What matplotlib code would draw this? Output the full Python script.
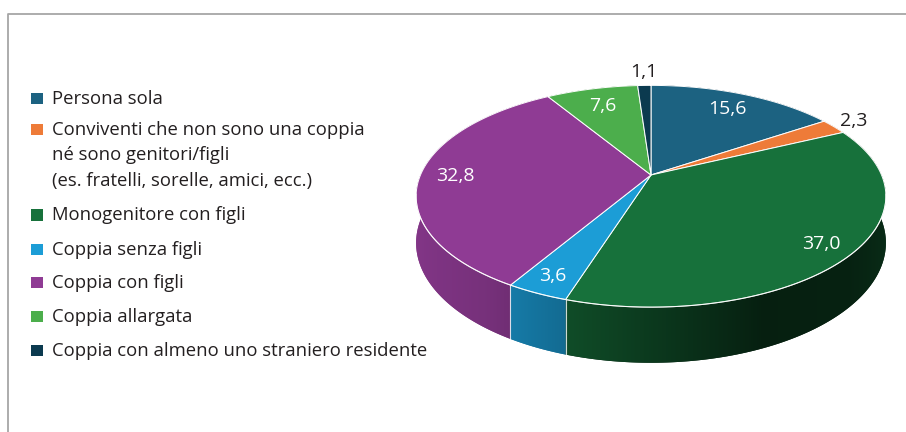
import numpy as np
import matplotlib.pyplot as plt
from matplotlib.patches import Polygon, Rectangle

# dati
categories = ["Persona sola",
              "Conviventi che non sono una coppia\nné sono genitori/figli\n(es. fratelli, sorelle, amici, ecc.)",
              "Monogenitore con figli",
              "Coppia senza figli",
              "Coppia con figli",
              "Coppia allargata",
              "Coppia con almeno uno straniero residente"]
values = [15.6, 2.3, 37.0, 3.6, 32.8, 7.6, 1.1]
value_labels = ["15,6", "2,3", "37,0", "3,6", "32,8", "7,6", "1,1"]
colors = ['#1c6281', '#ee7b38', '#17713b', '#1c9dd6', '#8f3b94', '#4cae4c', '#0b3a4f']
label_colors = ['white', '#231f20', 'white', 'white', 'white', 'white', '#231f20']
label_radius = [0.8, 1.12, 0.87, 0.88, 0.85, 0.78, 1.18]

# parametri della vista 3D (prospettiva)
tilt = np.radians(27.6)
dist = 4.62
scale = 1065
thick = 0.22
cx, cy = 651, 175


def proj(theta, r=1.0, z=0.0):
    # theta in gradi, in senso orario a partire dall'alto
    t = np.radians(theta)
    X = r * np.sin(t)
    Y = r * np.cos(t)
    v = Y * np.sin(tilt) + z * np.cos(tilt)
    w = dist + Y * np.cos(tilt)
    return cx + scale * X / w, cy - scale * v / w


def shade(col, f):
    c = np.array(plt.matplotlib.colors.to_rgb(col))
    return np.clip(c * f, 0, 1)


plt.rcParams['font.family'] = ['Open Sans', 'DejaVu Sans']

fig = plt.figure(figsize=(9.06, 4.32), dpi=100)
ax = fig.add_axes([0, 0, 1, 1])

# bordo
ax.plot([8, 8, 906], [432, 14, 14], color='#a6a6a6', lw=1.3, solid_capstyle='butt')

total = sum(values)
bounds = np.concatenate([[0], np.cumsum(values) / total * 360])

# pareti laterali con sfumatura orizzontale
shade_x = [-1, -0.6, -0.3, 0.4, 0.75, 1]
shade_f = [0.92, 0.83, 0.68, 0.28, 0.30, 0.40]
th_front = np.linspace(95, 265, 400)
px_front = proj(th_front)[0]
x_left, x_right = proj(270)[0] - 15, proj(90)[0] + 15
cols = np.arange(x_left, x_right, 1.0)
Xcol = np.sin(np.radians(np.interp(cols, px_front[::-1], th_front[::-1])))
fac = np.interp(Xcol, shade_x, shade_f)
y_top, y_bot = proj(0)[1] - 10, proj(180, z=-thick)[1] + 10

for i in range(len(values)):
    angs = np.linspace(bounds[i], bounds[i + 1], 200)
    tx, ty = proj(angs)
    bx, by = proj(angs[::-1], z=-thick)
    pts = list(zip(tx, ty)) + list(zip(bx, by))
    mid_f = np.interp(np.sin(np.radians(angs.mean())), shade_x, shade_f)
    ax.add_patch(Polygon(pts, closed=True, facecolor=shade(colors[i], mid_f),
                         edgecolor='none', zorder=0.9))
    wall = Polygon(pts, closed=True, facecolor='none', edgecolor='none')
    ax.add_patch(wall)
    img = np.array([[shade(colors[i], f) for f in fac]])
    im = ax.imshow(img, extent=[x_left, x_right, y_bot, y_top], aspect='auto',
                   interpolation='bilinear', zorder=1)
    im.set_clip_path(wall)

# linee verticali tra le fette (lato frontale)
for b in bounds[:-1]:
    if np.cos(np.radians(b)) < -0.1:
        x0, y0 = proj(b)
        x1, y1 = proj(b, z=-thick)
        ax.plot([x0, x1], [y0, y1], color='white', lw=0.8, alpha=0.8, zorder=2)

# facce superiori
for i in range(len(values)):
    angs = np.linspace(bounds[i], bounds[i + 1], 200)
    xs, ys = proj(angs)
    pts = [(cx, cy)] + list(zip(xs, ys))
    ax.add_patch(Polygon(pts, closed=True, facecolor=colors[i], edgecolor='white',
                         lw=0.7, joinstyle='round', zorder=3))

# bordo anteriore chiaro
angs = np.linspace(100, 260, 300)
xs, ys = proj(angs)
ax.plot(xs, ys, color='white', lw=0.8, alpha=0.7, zorder=4)

# etichette valori
for i in range(len(values)):
    mid = (bounds[i] + bounds[i + 1]) / 2
    lx, ly = proj(mid, r=label_radius[i])
    ax.text(lx, ly, value_labels[i], color=label_colors[i], fontsize=14,
            ha='center', va='center', zorder=5)

# legenda
baselines = [104, 135, 220.5, 255, 288, 322, 356]
line_gap = 25.5
for i in range(len(categories)):
    yb = baselines[i]
    ax.add_patch(Rectangle((31, yb - 11.5), 12, 11.5, facecolor=colors[i], edgecolor='none'))
    for j, line in enumerate(categories[i].split('\n')):
        ax.text(52, yb + j * line_gap, line, fontsize=13.3, color='#231f20',
                ha='left', va='baseline')

ax.set_xlim(0, 906)
ax.set_ylim(432, 0)
ax.axis('off')

fig.savefig('out.png', dpi=100)
